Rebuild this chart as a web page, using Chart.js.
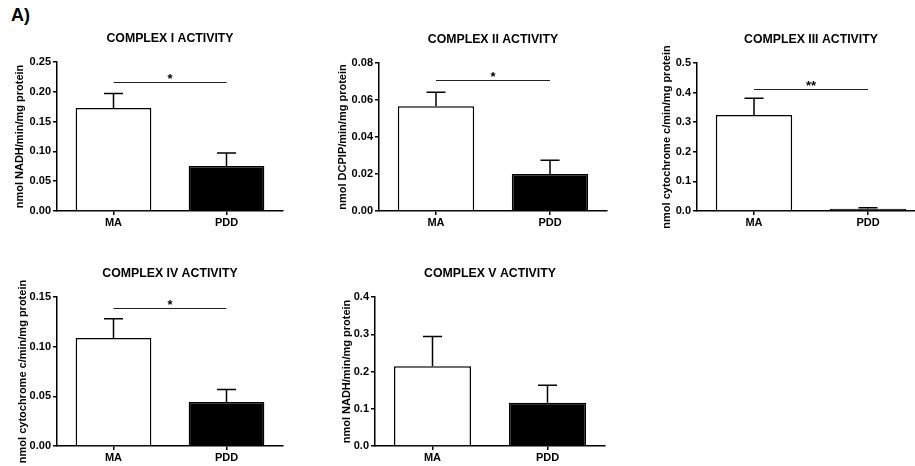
<!DOCTYPE html>
<html>
<head>
<meta charset="utf-8">
<script src="https://cdn.jsdelivr.net/npm/chart.js@4.4.1/dist/chart.umd.min.js"></script>
<style>
  html, body { margin:0; padding:0; background:#fff; width:915px; height:466px; overflow:hidden; position:relative; }
  canvas { position:absolute; }
  #lbl { position:absolute; left:11px; top:5px; font:bold 18px "Liberation Sans", Arial, sans-serif; color:#000; }
</style>
</head>
<body>
<div id="lbl">A)</div>
<canvas id="c1" width="300" height="235"></canvas>
<canvas id="c2" width="305" height="235"></canvas>
<canvas id="c3" width="300" height="235"></canvas>
<canvas id="c4" width="300" height="231"></canvas>
<canvas id="c5" width="305" height="231"></canvas>
<script>
// ---- data ----
const categories = ['MA', 'PDD'];

const titles = ['COMPLEX I ACTIVITY', 'COMPLEX II ACTIVITY', 'COMPLEX III ACTIVITY', 'COMPLEX IV ACTIVITY', 'COMPLEX V ACTIVITY'];
const yTitles = ['nmol NADH/min/mg protein', 'nmol DCPIP/min/mg protein', 'nmol cytochrome c/min/mg protein', 'nmol cytochrome c/min/mg protein', 'nmol NADH/min/mg protein'];

const c1Means = [0.173, 0.0755];
const c1Sem   = [0.024, 0.022];
const c1Sig   = 0.216;
const c1Ticks = ['0.00', '0.05', '0.10', '0.15', '0.20', '0.25'];

const c2Means = [0.0566, 0.0200];
const c2Sem   = [0.0076, 0.0075];
const c2Sig   = 0.0707;
const c2Ticks = ['0.00', '0.02', '0.04', '0.06', '0.08'];

const c3Means = [0.324, 0.008];
const c3Sem   = [0.057, 0.003];
const c3Sig   = 0.411;
const c3Ticks = ['0.0', '0.1', '0.2', '0.3', '0.4', '0.5'];

const c4Means = [0.1087, 0.0443];
const c4Sem   = [0.0193, 0.0127];
const c4Sig   = 0.139;
const c4Ticks = ['0.00', '0.05', '0.10', '0.15'];

const c5Means = [0.214, 0.116];
const c5Sem   = [0.080, 0.047];
const c5Sig   = null;
const c5Ticks = ['0.0', '0.1', '0.2', '0.3', '0.4'];

const sigMarks = ['*', '*', '**', '*', ''];
const yMax  = [0.25, 0.08, 0.5, 0.15, 0.4];
const yStep = [0.05, 0.02, 0.1, 0.05, 0.1];

// ---- layout (positions only) ----
const panels = [
  { id:'c1', left:0,   top:0,   w:300, h:235, cl:57, cr:283, ct:62, cb:211, ytx:20 },
  { id:'c2', left:320, top:0,   w:305, h:235, cl:59, cr:287, ct:63, cb:211, ytx:23 },
  { id:'c3', left:640, top:0,   w:300, h:235, cl:57, cr:285, ct:63, cb:211, ytx:27 },
  { id:'c4', left:0,   top:235, w:300, h:231, cl:57, cr:283, ct:62, cb:211, ytx:23 },
  { id:'c5', left:320, top:235, w:305, h:231, cl:55, cr:285, ct:62, cb:211, ytx:27 }
];
const series = [
  [c1Means, c1Sem, c1Sig, c1Ticks],
  [c2Means, c2Sem, c2Sig, c2Ticks],
  [c3Means, c3Sem, c3Sig, c3Ticks],
  [c4Means, c4Sem, c4Sig, c4Ticks],
  [c5Means, c5Sem, c5Sig, c5Ticks]
];

const FONT = '"Liberation Sans", Arial, sans-serif';
Chart.defaults.font.family = FONT;
Chart.defaults.color = '#000';

const extrasPlugin = {
  id: 'extras',
  afterDatasetsDraw(chart, args, opts) {
    const ctx = chart.ctx;
    const ys = chart.scales.y;
    const meta = chart.getDatasetMeta(0);
    const ca = chart.chartArea;
    ctx.save();
    ctx.strokeStyle = '#000';
    ctx.lineWidth = 1.5;
    // error bars (upper only)
    opts.means.forEach((m, i) => {
      const x = meta.data[i].x;
      const yb = ys.getPixelForValue(m);
      const yt = ys.getPixelForValue(m + opts.sem[i]);
      ctx.beginPath();
      ctx.moveTo(x, yb); ctx.lineTo(x, yt);
      ctx.moveTo(x - 9.5, yt); ctx.lineTo(x + 9.5, yt);
      ctx.stroke();
    });
    // significance
    if (opts.sig !== null) {
      const y = Math.round(ys.getPixelForValue(opts.sig)) + 0.5;
      const x0 = meta.data[0].x, x1 = meta.data[1].x;
      ctx.lineWidth = 1.1;
      ctx.strokeStyle = '#222';
      ctx.beginPath();
      ctx.moveTo(x0, y); ctx.lineTo(x1, y);
      ctx.stroke();
      ctx.fillStyle = '#000';
      ctx.font = 'bold 13px ' + FONT;
      ctx.textAlign = 'center';
      ctx.textBaseline = 'alphabetic';
      ctx.fillText(opts.mark, (x0 + x1) / 2, y + 0.5);
    }
    // panel title
    ctx.fillStyle = '#000';
    ctx.font = 'bold 12.3px ' + FONT;
    ctx.textAlign = 'center';
    ctx.textBaseline = 'middle';
    ctx.fillText(opts.title, (ca.left + ca.right) / 2, ca.top - 23);
    ctx.restore();
  }
};

panels.forEach((p, k) => {
  const [means, sem, sig, ticks] = series[k];
  const cv = document.getElementById(p.id);
  cv.style.left = p.left + 'px';
  cv.style.top = p.top + 'px';
  const yFont = { size: 11, weight: 'bold', lineHeight: 1.2 };
  new Chart(cv, {
    type: 'bar',
    data: {
      labels: categories,
      datasets: [{
        data: means,
        backgroundColor: ['#ffffff', '#000000'],
        borderColor: '#000000',
        borderWidth: 1.5,
        categoryPercentage: 1.0,
        barPercentage: 0.67
      }]
    },
    options: {
      responsive: false,
      animation: false,
      devicePixelRatio: 1,
      layout: { padding: { left: 0, top: p.ct, right: p.w - p.cr, bottom: 0 } },
      plugins: {
        legend: { display: false },
        tooltip: { enabled: false },
        extras: { means: means, sem: sem, sig: sig, mark: sigMarks[k], title: titles[k] }
      },
      scales: {
        x: {
          offset: true,
          grid: { display: true, drawOnChartArea: false, drawTicks: true, tickLength: 4, offset: false, color: '#000', lineWidth: 1.5 },
          border: { display: true, color: '#000', width: 1.5 },
          ticks: { font: { size: 11, weight: 'bold' }, color: '#000', padding: 1, maxRotation: 0 },
          afterFit(s) { s.height = p.h - p.cb; }
        },
        y: {
          min: 0, max: yMax[k],
          ticks: {
            stepSize: yStep[k],
            font: { size: 11, weight: 'bold' }, color: '#000', padding: 2,
            callback: (v, i) => ticks[i]
          },
          grid: { display: true, drawOnChartArea: false, drawTicks: true, tickLength: 4, color: '#000', lineWidth: 1.5 },
          border: { display: true, color: '#000', width: 1.5 },
          title: { display: true, text: yTitles[k], font: yFont, color: '#000', padding: { top: p.ytx - 6.6, bottom: 0 } },
          afterFit(s) { s.width = p.cl; }
        }
      }
    },
    plugins: [extrasPlugin]
  });
});
</script>
</body>
</html>
